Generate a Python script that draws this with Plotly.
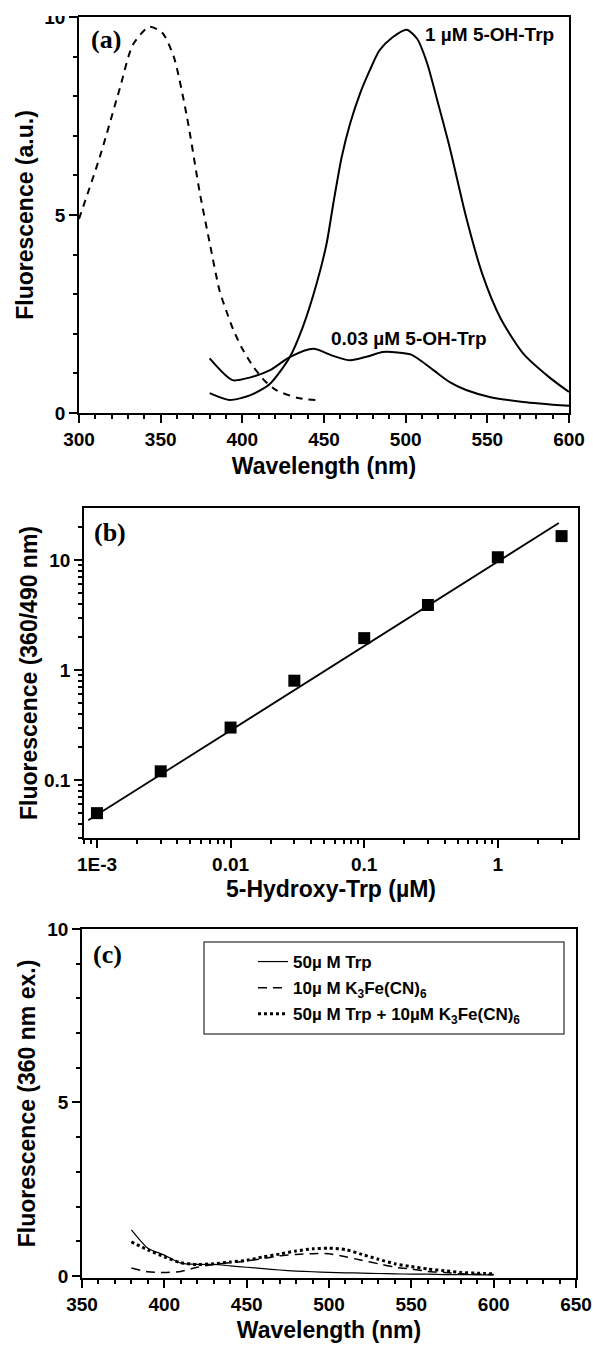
import plotly.graph_objects as go

W, H = 593, 1347

# ---------------- data: panel (a) ----------------
a_exc_x = [300, 313, 325, 333, 343, 351, 358, 366, 374, 380, 386, 390, 394.5, 400, 406.7, 414, 421, 435, 448]
a_exc_y = [4.9, 6.5, 8.2, 9.3, 9.75, 9.6, 9.0, 7.5, 5.55, 4.3, 3.1, 2.6, 2.1, 1.62, 1.17, 0.8, 0.57, 0.37, 0.32]

a_1uM_x = [380, 392, 405, 417, 429, 437, 445.5, 451.6, 455.7, 460.8, 466, 472, 478, 484,
           492, 500.6, 507, 513, 519, 527, 537, 547, 558, 572, 588, 600]
a_1uM_y = [0.5, 0.33, 0.45, 0.74, 1.41, 2.17, 3.27, 4.28, 5.29, 6.46, 7.31, 8.06, 8.65, 9.16,
           9.49, 9.68, 9.45, 8.85, 7.95, 6.7, 4.95, 3.5, 2.4, 1.5, 0.9, 0.53]

a_003_x = [380, 394, 405, 417, 429, 443.5, 455, 466, 476, 486, 495, 503, 510, 518, 527, 537, 552, 572, 600]
a_003_y = [1.38, 0.83, 0.9, 1.08, 1.41, 1.62, 1.45, 1.33, 1.42, 1.54, 1.53, 1.48, 1.3, 1.05,
           0.78, 0.58, 0.4, 0.28, 0.18]

# ---------------- data: panel (b) ----------------
b_conc = [0.001, 0.003, 0.01, 0.03, 0.1, 0.3, 1, 3]
b_ratio = [0.05, 0.12, 0.30, 0.80, 1.95, 3.9, 10.6, 16.5]
b_fit_x = [0.00086, 2.86]
b_fit_y = [0.043, 21.7]
b_xtickvals = [0.001, 0.01, 0.1, 1]
b_xticktext = ["1E-3", "0.01", "0.1", "1"]
b_ytickvals = [0.1, 1, 10]
b_yticktext = ["0.1", "1", "10"]

# ---------------- data: panel (c) ----------------
c_wl = [380, 390, 400, 410, 420, 430, 440, 450, 460, 470, 480, 490, 500, 510, 520, 530, 540,
        550, 560, 570, 580, 590, 600]
c_trp = [1.33, 0.8, 0.6, 0.37, 0.33, 0.33, 0.29, 0.25, 0.21, 0.17, 0.14, 0.12, 0.1, 0.09, 0.08,
         0.07, 0.06, 0.05, 0.05, 0.04, 0.04, 0.03, 0.03]
c_fe = [0.23, 0.12, 0.1, 0.13, 0.25, 0.33, 0.38, 0.43, 0.5, 0.58, 0.62, 0.64, 0.64, 0.55, 0.45,
        0.35, 0.25, 0.2, 0.13, 0.1, 0.06, 0.05, 0.04]
c_mix = [0.98, 0.75, 0.55, 0.38, 0.33, 0.35, 0.4, 0.45, 0.55, 0.63, 0.72, 0.78, 0.8, 0.76, 0.62,
         0.48, 0.35, 0.27, 0.2, 0.15, 0.1, 0.08, 0.06]
c_names = ["50µ M Trp", "10µ M K<sub>3</sub>Fe(CN)<sub>6</sub>",
           "50µ M Trp + 10µM K<sub>3</sub>Fe(CN)<sub>6</sub>"]

# ---------------- layout helpers ----------------
def px_x(a, b):
    return [a / W, b / W]

def px_y(top, bottom):
    return [1 - bottom / H, 1 - top / H]

SANS = "Liberation Sans, Arial, Helvetica, sans-serif"
TICKFONT = dict(family=SANS, size=19, color="black", weight="bold")
TITLEFONT = dict(family=SANS, size=23, color="black", weight="bold")

def axis_common(**kw):
    d = dict(showline=True, linecolor="black", linewidth=1.5, mirror=True,
             ticks="outside", ticklen=8, tickwidth=1.5, tickcolor="black",
             showgrid=False, zeroline=False, tickfont=TICKFONT)
    d.update(kw)
    return d

fig = go.Figure()

# panel (a)
fig.add_trace(go.Scatter(x=a_exc_x, y=a_exc_y, mode="lines", xaxis="x", yaxis="y",
                         line=dict(color="black", width=2, dash="7px,6px", shape="spline", smoothing=0.7),
                         showlegend=False))
fig.add_trace(go.Scatter(x=a_1uM_x, y=a_1uM_y, mode="lines", xaxis="x", yaxis="y",
                         line=dict(color="black", width=2, shape="spline", smoothing=0.7),
                         showlegend=False))
fig.add_trace(go.Scatter(x=a_003_x, y=a_003_y, mode="lines", xaxis="x", yaxis="y",
                         line=dict(color="black", width=2, shape="spline", smoothing=0.7),
                         showlegend=False))

# panel (b)
fig.add_trace(go.Scatter(x=b_fit_x, y=b_fit_y, mode="lines", xaxis="x2", yaxis="y2",
                         line=dict(color="black", width=1.8), showlegend=False))
fig.add_trace(go.Scatter(x=b_conc, y=b_ratio, mode="markers", xaxis="x2", yaxis="y2",
                         marker=dict(symbol="square", size=12, color="black"),
                         showlegend=False))

# panel (c)
fig.add_trace(go.Scatter(x=c_wl, y=c_trp, mode="lines", xaxis="x3", yaxis="y3", name=c_names[0],
                         legendgroup="g1",
                         line=dict(color="black", width=1.2, shape="spline", smoothing=0.6)))
fig.add_trace(go.Scatter(x=c_wl, y=c_fe, mode="lines", xaxis="x3", yaxis="y3", name=c_names[1],
                         legendgroup="g2",
                         line=dict(color="black", width=1.5, dash="9px,6px", shape="spline", smoothing=0.6)))
fig.add_trace(go.Scatter(x=c_wl, y=c_mix, mode="lines", xaxis="x3", yaxis="y3", name=c_names[2],
                         legendgroup="g3",
                         line=dict(color="black", width=3, dash="dot", shape="spline", smoothing=0.6)))

b_xminor = [0.0008, 0.0009] + [d * 0.001 for d in range(2, 10)] + [d * 0.01 for d in range(2, 10)] \
    + [d * 0.1 for d in range(2, 10)] + [2, 3, 4]
b_yminor = [0.03, 0.04, 0.05, 0.06, 0.07, 0.08, 0.09] + [d * 0.1 for d in range(2, 10)] \
    + [d * 1.0 for d in range(2, 10)] + [20, 30]

fig.update_layout(
    width=W, height=H, template="none",
    margin=dict(l=0, r=0, t=0, b=0),
    paper_bgcolor="white", plot_bgcolor="white",
    showlegend=True,
    # (a)
    xaxis=axis_common(domain=px_x(79, 569), anchor="y", range=[300, 600], dtick=50, tick0=300,
                      minor=dict(dtick=10, ticklen=4, tickwidth=1.5, tickcolor="black", ticks="outside"),
                      title=dict(text="Wavelength (nm)", font=TITLEFONT, standoff=9)),
    yaxis=axis_common(domain=px_y(17, 413), anchor="x", range=[0, 10], dtick=5, tick0=0,
                      minor=dict(dtick=1, ticklen=4, tickwidth=1.5, tickcolor="black", ticks="outside"),
                      title=dict(text="Fluorescence (a.u.)", font=TITLEFONT, standoff=4)),
    # (b)
    xaxis2=axis_common(domain=px_x(84, 578), anchor="y2", type="log",
                       range=[-3.097, 0.6], tickmode="array", tickvals=b_xtickvals, ticktext=b_xticktext,
                       minor=dict(tickmode="array", tickvals=b_xminor, ticklen=4, tickwidth=1.5,
                                  tickcolor="black", ticks="outside"),
                       title=dict(text="5-Hydroxy-Trp (µM)", font=TITLEFONT, standoff=7)),
    yaxis2=axis_common(domain=px_y(508, 838), anchor="x2", type="log",
                       range=[-1.527, 1.473], tickmode="array", tickvals=b_ytickvals, ticktext=b_yticktext,
                       minor=dict(tickmode="array", tickvals=b_yminor, ticklen=4, tickwidth=1.5,
                                  tickcolor="black", ticks="outside"),
                       title=dict(text="Fluorescence (360/490 nm)", font=TITLEFONT, standoff=0)),
    # (c)
    xaxis3=axis_common(domain=px_x(82, 576), anchor="y3", range=[350, 650], dtick=50, tick0=350,
                       minor=dict(dtick=10, ticklen=4, tickwidth=1.5, tickcolor="black", ticks="outside"),
                       title=dict(text="Wavelength (nm)", font=TITLEFONT, standoff=8)),
    yaxis3=axis_common(domain=px_y(929, 1278), anchor="x3", range=[-0.06, 10], dtick=5, tick0=0,
                       minor=dict(dtick=1, ticklen=4, tickwidth=1.5, tickcolor="black", ticks="outside"),
                       title=dict(text="Fluorescence (360 nm ex.)", font=TITLEFONT, standoff=5)),
    legend=dict(x=253 / W, y=1 - 944 / H, xanchor="left", yanchor="top",
                bgcolor="rgba(0,0,0,0)", borderwidth=0, tracegroupgap=1,
                font=dict(family=SANS, size=17, color="black", weight="bold")),
)

SERIF = "Liberation Serif, Times New Roman, serif"
panel_font = dict(family=SERIF, size=26, color="black", weight="bold")
annots = [
    dict(text="(a)", x=106 / W, y=1 - 39 / H, xref="paper", yref="paper", font=panel_font),
    dict(text="(b)", x=110 / W, y=1 - 533 / H, xref="paper", yref="paper", font=panel_font),
    dict(text="(c)", x=107 / W, y=1 - 954 / H, xref="paper", yref="paper", font=panel_font),
    dict(text="1 µM 5-OH-Trp", x=551.6, y=9.57, xref="x", yref="y",
         font=dict(family=SANS, size=19, color="black", weight="bold")),
    dict(text="0.03 µM 5-OH-Trp", x=502, y=1.87, xref="x", yref="y",
         font=dict(family=SANS, size=19, color="black", weight="bold")),
]
for a in annots:
    a.update(showarrow=False, xanchor="center", yanchor="middle")
fig.update_layout(annotations=annots)

# legend frame of panel (c) and the cropped top edge of the original figure
fig.update_layout(shapes=[
    dict(type="rect", xref="paper", yref="paper", x0=204 / W, x1=564 / W,
         y0=1 - 1034 / H, y1=1 - 942 / H, line=dict(color="#555555", width=1.5),
         fillcolor="rgba(0,0,0,0)", layer="above"),
    dict(type="rect", xref="paper", yref="paper", x0=0, x1=78 / W,
         y0=1 - 16 / H, y1=1, line=dict(width=0), fillcolor="white", layer="above"),
])

fig.write_html("out.html")
